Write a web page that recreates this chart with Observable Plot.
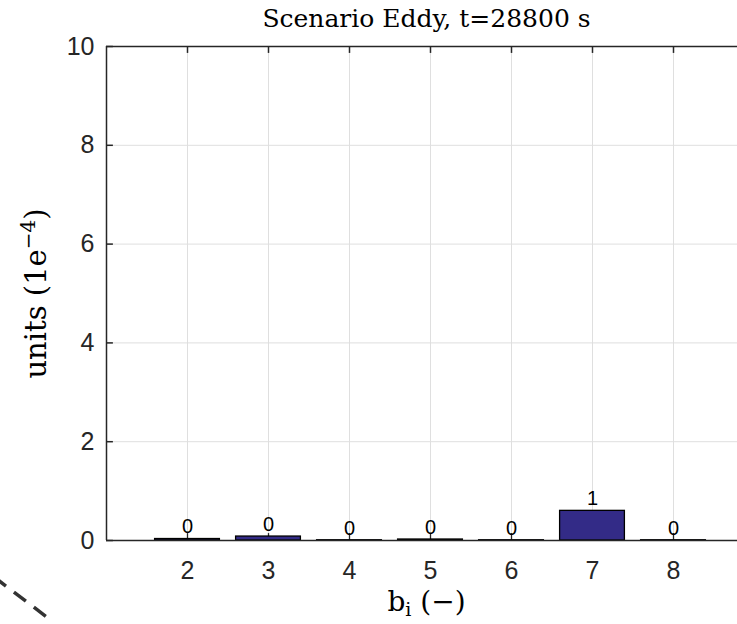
<!DOCTYPE html>
<html>
<head>
<meta charset="utf-8">
<script src="https://cdn.jsdelivr.net/npm/d3@7"></script>
<script src="https://cdn.jsdelivr.net/npm/@observablehq/plot@0.6"></script>
<style>
  html, body { margin: 0; padding: 0; background: white; }
  #chart { position: relative; width: 737px; height: 624px; overflow: hidden; }
</style>
</head>
<body>
<div id="chart"></div>
<script>
// ---- data ----
const bins = [2, 3, 4, 5, 6, 7, 8];
const values = [0.03, 0.08, 0.005, 0.02, 0.005, 0.6, 0.005];   // units (1e-4)
const barLabels = ["0", "0", "0", "0", "0", "1", "0"];
const xTicks = [2, 3, 4, 5, 6, 7, 8];
const yTicks = [0, 2, 4, 6, 8, 10];
const yTickLabels = ["0", "2", "4", "6", "8", "10"];
const titleText = "Scenario Eddy, t=28800 s";
const xLabelParts = [["b", ""], ["i", "sub"], [" (\u2212)", ""]];
const yLabelParts = [["units (1e", ""], ["\u22124", "sup"], [")", ""]];
const xLabelText = xLabelParts.map(p => p[0]).join("");
const yLabelText = yLabelParts.map(p => p[0]).join("");

const data = bins.map((b, i) => ({b, v: values[i], label: barLabels[i]}));
const yTickData = yTicks.map((t, i) => ({t, label: yTickLabels[i]}));

const axisColor = "#262626";
const gridColor = "#dfdfdf";
const barColor = "#332b87";
const sans = "Liberation Sans, Arial, Helvetica, sans-serif";
const serif = "DejaVu Serif, Liberation Serif, serif";

const plot = Plot.plot({
  width: 737,
  height: 624,
  marginLeft: 106,
  marginTop: 46,
  marginRight: 0,
  marginBottom: 84,
  x: {type: "linear", domain: [1, 9], range: [106, 754], axis: null},
  y: {type: "linear", domain: [0, 10], range: [540, 46], axis: null},
  style: {background: "white", fontFamily: sans, overflow: "visible"},
  marks: [
    // grid
    Plot.ruleX(xTicks, {y1: 0, y2: 10, stroke: gridColor, strokeWidth: 1}),
    Plot.ruleY(yTicks.filter(t => t > 0 && t < 10), {stroke: gridColor, strokeWidth: 1}),
    // bottom inward ticks (under bars)
    Plot.ruleX(xTicks, {y1: 0, y2: 0.14, stroke: axisColor, strokeWidth: 1.3}),
    // bars
    Plot.rect(data, {
      x1: d => d.b - 0.4, x2: d => d.b + 0.4, y1: 0, y2: "v",
      fill: barColor, stroke: "black", strokeWidth: 1.3
    }),
    // axis lines
    Plot.ruleX([1], {y1: 0, y2: 10, stroke: axisColor, strokeWidth: 1.5}),
    Plot.ruleY([0], {stroke: axisColor, strokeWidth: 1.5}),
    Plot.ruleY([10], {stroke: axisColor, strokeWidth: 1.5}),
    // inward ticks: left and top
    Plot.ruleY(yTicks, {x1: 1, x2: 1.085, stroke: axisColor, strokeWidth: 1.5}),
    Plot.ruleX(xTicks, {y1: 10, y2: 9.86, stroke: axisColor, strokeWidth: 1.5}),
    // tick labels
    Plot.text(yTickData, {
      x: () => 1, y: "t", text: "label", textAnchor: "end", dx: -12,
      fontSize: 25, fill: axisColor, fontFamily: sans, lineAnchor: "middle"
    }),
    Plot.text(xTicks, {
      x: d => d, y: () => 0, text: d => String(d), dy: 30,
      fontSize: 25, fill: axisColor, fontFamily: sans, lineAnchor: "middle"
    }),
    // bar value labels
    Plot.text(data, {
      x: "b", y: "v", text: "label", dy: -12,
      fontSize: 20, fill: "black", fontFamily: sans, lineAnchor: "middle"
    }),
    // title
    Plot.text([titleText], {
      x: () => 5, y: () => 10, text: d => d, dy: -28, dx: -4,
      fontSize: 25, fill: "black", fontFamily: serif, lineAnchor: "middle"
    }),
    // x label
    Plot.text([xLabelText], {
      x: () => 5, y: () => 0, text: d => d, dy: 62, dx: -4,
      fontSize: 28, fill: "black", fontFamily: serif, lineAnchor: "middle"
    }),
    // y label
    Plot.text([yLabelText], {
      x: () => 1, y: () => 5, text: d => d, dx: -70, rotate: -90,
      fontSize: 29, fill: "black", fontFamily: serif, lineAnchor: "middle"
    })
  ]
});

// rebuild the axis labels with real sub/superscripts (text stays real text)
function withScripts(full, parts, smallSize, shift) {
  d3.select(plot).selectAll("text").filter(function () {
    return this.textContent === full;
  }).each(function () {
    const t = d3.select(this);
    t.text(null);
    let prev = "";
    for (const [s, kind] of parts) {
      const sp = t.append("tspan").text(s);
      if (kind === "sup") { sp.attr("font-size", smallSize).attr("dy", -shift); prev = "sup"; }
      else if (kind === "sub") { sp.attr("font-size", smallSize).attr("dy", shift * 0.45); prev = "sub"; }
      else {
        if (prev === "sup") sp.attr("dy", shift);
        if (prev === "sub") sp.attr("dy", -shift * 0.45);
        prev = "";
      }
    }
  });
}
withScripts(yLabelText, yLabelParts, 20, 11);
withScripts(xLabelText, xLabelParts, 19, 11);

// decorative dashed stroke at the lower-left corner of the reference image
d3.select(plot).append("line")
  .attr("x1", -6).attr("y1", 577).attr("x2", 52).attr("y2", 621)
  .attr("stroke", "#333").attr("stroke-width", 3.5)
  .attr("stroke-dasharray", "15 10");

document.getElementById("chart").appendChild(plot);
</script>
</body>
</html>
